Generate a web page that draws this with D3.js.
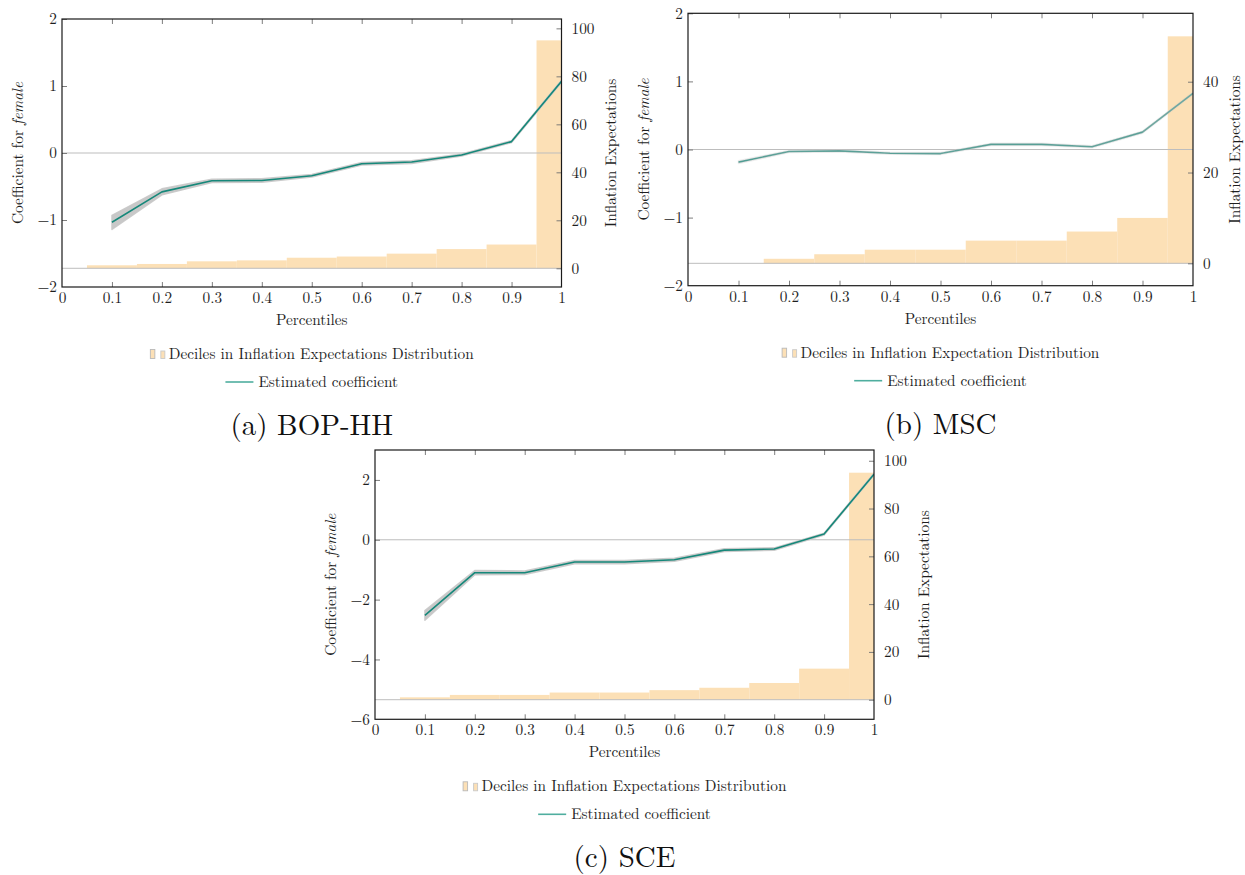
<!DOCTYPE html>
<html>
<head>
<meta charset="utf-8">
<script src="https://cdn.jsdelivr.net/npm/d3@7"></script>
<style>
  html, body { margin: 0; padding: 0; background: #fff; }
  svg { display: block; }
</style>
</head>
<body>
<svg id="chart" width="1245" height="875"></svg>
<script>
// Quantile-regression coefficients on the female dummy, by percentile,
// with the decile values of the inflation-expectations distribution behind them.
const percentiles = [0.1, 0.2, 0.3, 0.4, 0.5, 0.6, 0.7, 0.8, 0.9, 1.0];
const xTickValues = [0, 0.1, 0.2, 0.3, 0.4, 0.5, 0.6, 0.7, 0.8, 0.9, 1];
const xTickLabels = ["0", "0.1", "0.2", "0.3", "0.4", "0.5", "0.6", "0.7", "0.8", "0.9", "1"];

// (a) BOP-HH
const bopCoef  = [-1.034, -0.58, -0.415, -0.41, -0.34, -0.16, -0.135, -0.03, 0.17, 1.07];
const bopLower = [-1.14, -0.625, -0.44, -0.435, -0.36, -0.18, -0.155, -0.045, 0.155, 1.055];
const bopUpper = [-0.93, -0.535, -0.39, -0.385, -0.32, -0.14, -0.115, -0.015, 0.185, 1.085];
const bopDeciles = [1.25, 1.8, 2.9, 3.3, 4.4, 4.9, 6.1, 8.0, 9.9, 95];
const bopLeftTicks = [-2, -1, 0, 1, 2];
const bopRightTicks = [0, 20, 40, 60, 80, 100];

// (b) MSC
const mscCoef  = [-0.185, -0.03, -0.02, -0.055, -0.06, 0.075, 0.075, 0.04, 0.255, 0.825];
const mscLower = [-0.205, -0.045, -0.035, -0.07, -0.075, 0.06, 0.06, 0.025, 0.24, 0.81];
const mscUpper = [-0.165, -0.015, -0.005, -0.04, -0.045, 0.09, 0.09, 0.055, 0.27, 0.84];
const mscDeciles = [0, 1, 2, 3, 3, 5, 5, 7, 10, 50];
const mscLeftTicks = [-2, -1, 0, 1, 2];
const mscRightTicks = [0, 20, 40];

// (c) SCE
const sceCoef  = [-2.53, -1.1, -1.1, -0.745, -0.745, -0.67, -0.345, -0.31, 0.19, 2.19];
const sceLower = [-2.69, -1.17, -1.16, -0.8, -0.8, -0.72, -0.39, -0.35, 0.16, 2.16];
const sceUpper = [-2.37, -1.03, -1.04, -0.69, -0.69, -0.62, -0.3, -0.27, 0.22, 2.22];
const sceDeciles = [1, 2, 2, 3, 3, 4, 5, 7, 13, 95];
const sceLeftTicks = [-6, -4, -2, 0, 2];
const sceRightTicks = [0, 20, 40, 60, 80, 100];

const FONT = "'Latin Modern Roman', 'CMU Serif', 'Liberation Serif', serif";
const FS = 15.3;

const COLORS = {
  bar: "#fce0b6",
  line: "#16887a",
  legendLine: "#4fae9f",
  band: "#c8c8c8",
  zero: "#bdbdbd",
  tick: "#6f6f6f",
  axis: "#1a1a1a",
  text: "#1e1e1e"
};

const svg = d3.select("#chart");
svg.append("rect").attr("width", 1245).attr("height", 875).attr("fill", "#fff");

const panels = [
  {
    id: "a", caption: "(a) BOP-HH",
    coef: bopCoef, lower: bopLower, upper: bopUpper, deciles: bopDeciles,
    leftTicks: bopLeftTicks, rightTicks: bopRightTicks,
    leftDomain: [-2, 2], rightDomain: [-7.8, 103.9],
    barLabel: "Deciles in Inflation Expectations Distribution",
    box: { x0: 62, x1: 561.5, y0: 19, y1: 287 },
    bandOnTop: false
  },
  {
    id: "b", caption: "(b) MSC",
    coef: mscCoef, lower: mscLower, upper: mscUpper, deciles: mscDeciles,
    leftTicks: mscLeftTicks, rightTicks: mscRightTicks,
    leftDomain: [-2, 2], rightDomain: [-4.93, 55.07],
    barLabel: "Deciles in Inflation Expectation Distribution",
    box: { x0: 688, x1: 1193, y0: 13.3, y1: 285.7 },
    bandOnTop: true
  },
  {
    id: "c", caption: "(c) SCE",
    coef: sceCoef, lower: sceLower, upper: sceUpper, deciles: sceDeciles,
    leftTicks: sceLeftTicks, rightTicks: sceRightTicks,
    leftDomain: [-6, 3], rightDomain: [-8.2, 104.5],
    barLabel: "Deciles in Inflation Expectations Distribution",
    box: { x0: 375, x1: 874, y0: 450, y1: 719.3 },
    bandOnTop: false
  }
];

panels.forEach(drawPanel);

function txt(sel, size) {
  return sel.style("font-family", FONT).style("font-size", (size || FS) + "px").attr("fill", COLORS.text);
}

function drawPanel(p) {
  const { x0, x1, y0, y1 } = p.box;
  const cx = (x0 + x1) / 2;
  const x = d3.scaleLinear().domain([0, 1]).range([x0, x1]);
  const yL = d3.scaleLinear().domain(p.leftDomain).range([y1, y0]);
  const yR = d3.scaleLinear().domain(p.rightDomain).range([y1, y0]);

  const g = svg.append("g").attr("class", "panel-" + p.id);

  g.append("clipPath").attr("id", "clip-" + p.id)
    .append("rect").attr("x", x0).attr("y", y0).attr("width", x1 - x0).attr("height", y1 - y0);

  const plot = g.append("g").attr("clip-path", `url(#clip-${p.id})`);

  // decile bars, one per percentile, 0.1 wide
  const bars = percentiles.map((q, i) => ({ q, v: p.deciles[i] }));
  plot.selectAll("rect.bar").data(bars.filter(d => d.v > 0)).join("rect")
    .attr("class", "bar")
    .attr("x", d => x(d.q - 0.05))
    .attr("width", d => x(d.q + 0.05) - x(d.q - 0.05))
    .attr("y", d => yR(d.v))
    .attr("height", d => yR(0) - yR(d.v))
    .attr("fill", COLORS.bar);

  // reference lines at zero on both axes
  plot.append("line").attr("x1", x0).attr("x2", x1)
    .attr("y1", yR(0)).attr("y2", yR(0))
    .attr("stroke", COLORS.zero).attr("stroke-width", 1);
  plot.append("line").attr("x1", x0).attr("x2", x1)
    .attr("y1", yL(0)).attr("y2", yL(0))
    .attr("stroke", COLORS.zero).attr("stroke-width", 1);

  // confidence band and estimate
  const pts = percentiles.map((q, i) => ({ q, c: p.coef[i], lo: p.lower[i], hi: p.upper[i] }));
  const area = d3.area().x(d => x(d.q)).y0(d => yL(d.lo)).y1(d => yL(d.hi));
  const line = d3.line().x(d => x(d.q)).y(d => yL(d.c));

  const drawBand = () => plot.append("path").datum(pts).attr("d", area)
    .attr("fill", COLORS.band)
    .attr("fill-opacity", p.bandOnTop ? 0.32 : 1)
    .attr("stroke", COLORS.band).attr("stroke-width", 1.5)
    .attr("stroke-opacity", p.bandOnTop ? 0.3 : 0.9)
    .attr("stroke-linejoin", "round");
  const drawLine = () => plot.append("path").datum(pts).attr("d", line)
    .attr("fill", "none").attr("stroke", COLORS.line).attr("stroke-width", 1.6)
    .attr("stroke-linejoin", "round");

  if (p.bandOnTop) { drawLine(); drawBand(); } else { drawBand(); drawLine(); }

  // axes: ticks point into the frame
  const tickLen = 5;
  const fmtL = d3.format("d");

  const bottom = g.append("g").attr("transform", `translate(0,${y1})`)
    .call(d3.axisBottom(x).tickValues(xTickValues).tickSize(-tickLen).tickPadding(5)
      .tickFormat((d, i) => xTickLabels[i]));
  const top = g.append("g").attr("transform", `translate(0,${y0})`)
    .call(d3.axisTop(x).tickValues(xTickValues).tickSize(-tickLen).tickFormat(""));
  const left = g.append("g").attr("transform", `translate(${x0},0)`)
    .call(d3.axisLeft(yL).tickValues(p.leftTicks).tickSize(-tickLen).tickPadding(5).tickFormat(fmtL));
  const right = g.append("g").attr("transform", `translate(${x1},0)`)
    .call(d3.axisRight(yR).tickValues(p.rightTicks).tickSize(-tickLen).tickPadding(10).tickFormat(fmtL));

  [bottom, top, left, right].forEach(ax => {
    ax.attr("font-family", null).attr("font-size", null);
    ax.select(".domain").remove();
    ax.selectAll(".tick line").attr("stroke", COLORS.tick).attr("stroke-width", 0.9);
    txt(ax.selectAll(".tick text"));
  });
  // no tick marks on the frame corners
  bottom.selectAll(".tick").filter(d => d === 0 || d === 1).select("line").remove();
  top.selectAll(".tick").filter(d => d === 0 || d === 1).select("line").remove();
  left.selectAll(".tick").filter(d => d === p.leftDomain[0]).select("line").remove();

  // frame
  g.append("rect").attr("x", x0).attr("y", y0).attr("width", x1 - x0).attr("height", y1 - y0)
    .attr("fill", "none").attr("stroke", COLORS.axis).attr("stroke-width", 1.2);

  // axis titles
  txt(g.append("text")).attr("x", cx).attr("y", y1 + 38)
    .attr("text-anchor", "middle").text("Percentiles");

  const midY = (y0 + y1) / 2;
  const lt = txt(g.append("text"))
    .attr("transform", `translate(${x0 - 39},${midY}) rotate(-90)`)
    .attr("text-anchor", "middle");
  lt.append("tspan").text("Coefficient for ");
  lt.append("tspan").style("font-style", "italic").text("female");

  let maxTickW = 0;
  right.selectAll(".tick text").each(function () {
    maxTickW = Math.max(maxTickW, this.getComputedTextLength());
  });
  txt(g.append("text"))
    .attr("transform", `translate(${x1 + 10 + maxTickW + 22},${midY}) rotate(-90)`)
    .attr("text-anchor", "middle")
    .text("Inflation Expectations");

  // legend
  const lg = g.append("g");
  const t1 = txt(lg.append("text")).attr("y", y1 + 72).text(p.barLabel);
  const w1 = t1.node().getComputedTextLength();
  const iconW = 19;
  const start1 = cx - (w1 + iconW) / 2;
  t1.attr("x", start1 + iconW);
  lg.append("rect").attr("x", start1 + 0.5).attr("y", y1 + 62.5).attr("width", 4.5).attr("height", 9)
    .attr("fill", COLORS.bar).attr("stroke", "#b9b9b9").attr("stroke-width", 0.9);
  lg.append("rect").attr("x", start1 + 11).attr("y", y1 + 64).attr("width", 4).attr("height", 7.5)
    .attr("fill", COLORS.bar).attr("stroke", "#c9c9c9").attr("stroke-width", 0.9);

  const t2 = txt(lg.append("text")).attr("y", y1 + 100).text("Estimated coefficient");
  const w2 = t2.node().getComputedTextLength();
  const lineW = 28, gap = 5;
  const start2 = cx - (w2 + lineW + gap) / 2;
  t2.attr("x", start2 + lineW + gap);
  lg.append("line").attr("x1", start2).attr("x2", start2 + lineW)
    .attr("y1", y1 + 95).attr("y2", y1 + 95)
    .attr("stroke", COLORS.legendLine).attr("stroke-width", 1.6);

  // sub-figure caption
  txt(g.append("text"), 29).attr("x", cx).attr("y", y1 + 148)
    .attr("text-anchor", "middle").attr("fill", "#111")
    .text(p.caption);
}
</script>
</body>
</html>
